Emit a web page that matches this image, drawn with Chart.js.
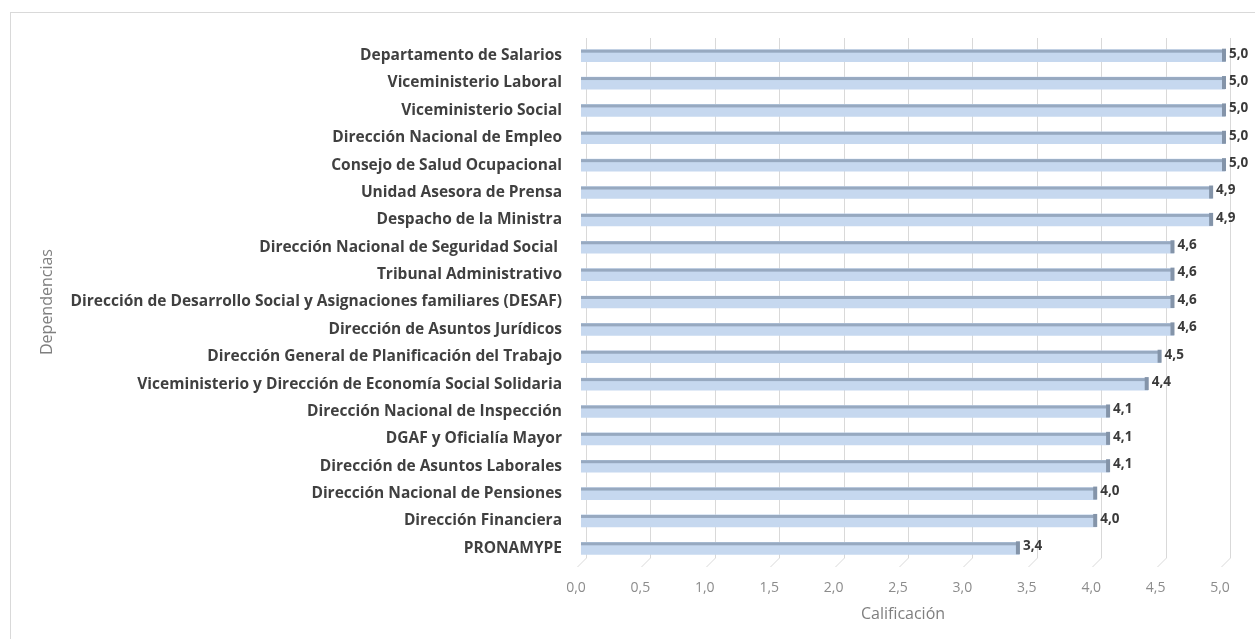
<!DOCTYPE html>
<html lang="es">
<head>
<meta charset="utf-8">
<title>Calificación por dependencia</title>
<script src="https://cdn.jsdelivr.net/npm/chart.js@4.4.1/dist/chart.umd.min.js"></script>
<style>
  html, body { margin: 0; padding: 0; background: #fff; }
  canvas { display: block; }
</style>
</head>
<body>
<canvas id="chartCalif" width="1255" height="639"></canvas>
<script>
// Dependencias (de arriba hacia abajo) y su calificación
const dependencias = [
  "Departamento de Salarios",
  "Viceministerio Laboral",
  "Viceministerio Social",
  "Dirección Nacional de Empleo",
  "Consejo de Salud Ocupacional",
  "Unidad Asesora de Prensa",
  "Despacho de la Ministra",
  "Dirección Nacional de Seguridad Social ",
  "Tribunal Administrativo",
  "Dirección de Desarrollo Social y Asignaciones familiares (DESAF)",
  "Dirección de Asuntos Jurídicos",
  "Dirección General de Planificación del Trabajo",
  "Viceministerio y Dirección de Economía Social Solidaria",
  "Dirección Nacional de Inspección",
  "DGAF y Oficialía Mayor",
  "Dirección de Asuntos Laborales",
  "Dirección Nacional de Pensiones",
  "Dirección Financiera",
  "PRONAMYPE"
];
const calificaciones = [5.0, 5.0, 5.0, 5.0, 5.0, 4.9, 4.9, 4.6, 4.6, 4.6, 4.6, 4.5, 4.4, 4.1, 4.1, 4.1, 4.0, 4.0, 3.4];

const escalaMin = 0;
const escalaMax = 5;
const escalaPaso = 0.5;
const tituloX = "Calificación";
const tituloY = "Dependencias";

function coma(n){ return Number(n).toFixed(1).replace(".", ","); }

Chart.defaults.font.family = "'Open Sans', sans-serif";

// marco, rejilla en perspectiva, caras 3D de las barras y etiquetas de valor
const efecto3D = {
  id: "efecto3D",
  beforeDraw(chart){
    const ctx = chart.ctx;
    ctx.save();
    ctx.strokeStyle = "#d9d9d9";
    ctx.lineWidth = 1;
    ctx.strokeRect(10.5, 12.5, chart.width, chart.height);
    ctx.restore();
  },
  beforeDatasetsDraw(chart){
    const ctx = chart.ctx;
    const area = chart.chartArea;
    const sx = chart.scales.x;
    ctx.save();
    ctx.strokeStyle = "#d9d9d9";
    ctx.lineWidth = 1;
    sx.ticks.forEach(t => {
      const px = Math.round(sx.getPixelForValue(t.value)) + 0.5;
      ctx.beginPath();
      ctx.moveTo(px + 5, area.top - 4);
      ctx.lineTo(px + 5, area.bottom - 4);
      ctx.lineTo(px - 4, area.bottom + 5);
      ctx.stroke();
    });
    ctx.restore();
  },
  afterDatasetsDraw(chart){
    const ctx = chart.ctx;
    const meta = chart.getDatasetMeta(0);
    const vals = chart.data.datasets[0].data;
    ctx.save();
    meta.data.forEach((bar, i) => {
      const p = bar.getProps(["x", "y", "base", "height"], true);
      const top = p.y - p.height / 2;
      ctx.fillStyle = "#97a9c0";
      ctx.fillRect(p.base, top, p.x - p.base, 3);
      ctx.fillStyle = "#8494a9";
      ctx.fillRect(p.x - 3, top - 1, 4, p.height + 1);
      ctx.fillStyle = "#3a3a3a";
      ctx.font = "bold 13.5px 'Open Sans', sans-serif";
      ctx.textAlign = "left";
      ctx.textBaseline = "middle";
      ctx.fillText(coma(vals[i]), p.x + 4, p.y - 2);
    });
    ctx.restore();
  }
};

new Chart(document.getElementById("chartCalif"), {
  type: "bar",
  data: {
    labels: dependencias,
    datasets: [{
      label: tituloX,
      data: calificaciones,
      backgroundColor: "#c6d8ef",
      barThickness: 12
    }]
  },
  options: {
    indexAxis: "y",
    responsive: false,
    animation: false,
    layout: { padding: { top: 42, right: 30, bottom: 0, left: 0 } },
    plugins: {
      legend: { display: false },
      tooltip: { enabled: false }
    },
    scales: {
      x: {
        position: "bottom",
        min: escalaMin,
        max: escalaMax,
        grid: { display: false, drawTicks: false, tickLength: 0 },
        border: { display: false },
        ticks: {
          stepSize: escalaPaso,
          color: "#8c8c8c",
          font: { size: 14 },
          padding: 18,
          labelOffset: -5,
          callback: v => coma(v)
        },
        title: {
          display: true,
          text: tituloX,
          color: "#7f7f7f",
          font: { size: 16 },
          padding: { top: 0, bottom: 15 }
        },
        afterFit(s){ s.height = 639 - 562; }
      },
      y: {
        grid: { display: false, drawTicks: false, tickLength: 0 },
        border: { display: false },
        ticks: {
          autoSkip: false,
          color: "#404040",
          font: { size: 15.5, weight: "bold" },
          padding: 19
        },
        title: {
          display: true,
          text: tituloY,
          color: "#7f7f7f",
          font: { size: 16 },
          padding: { top: 38, bottom: 0 }
        },
        afterFit(s){ s.width = 581; }
      }
    }
  },
  plugins: [efecto3D]
});
</script>
</body>
</html>
